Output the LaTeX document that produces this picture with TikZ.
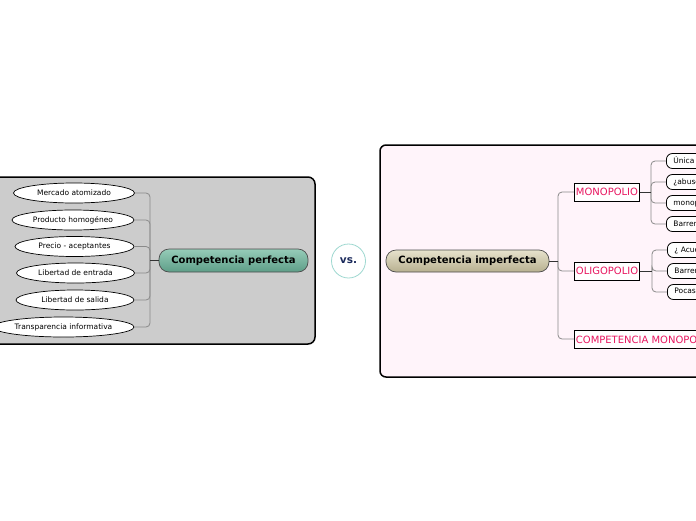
\documentclass[tikz,border=0pt]{standalone}
\usepackage{fontspec}
\setmainfont{DejaVu Sans}
\usetikzlibrary{shapes.geometric}
\definecolor{panelgray}{HTML}{CCCCCC}
\definecolor{panelpink}{HTML}{FFF4FA}
\definecolor{linegray}{HTML}{8A8A8A}
\definecolor{redtext}{HTML}{E8155F}
\definecolor{vsnavy}{HTML}{1B2A5C}
\definecolor{vsteal}{HTML}{9ED8D0}
\definecolor{greentop}{HTML}{96CCB8}
\definecolor{greenbot}{HTML}{5E9E88}
\definecolor{tantop}{HTML}{E6E2CC}
\definecolor{tanbot}{HTML}{B8B090}
\begin{document}
\begin{tikzpicture}[x=1pt,y=-1pt,
  leaf/.style={ellipse,draw=black,line width=0.7pt,fill=white,inner sep=0pt,minimum height=20pt,font=\fontsize{7.5}{8}\selectfont},
  rootA/.style={rounded corners=10pt,draw=black!70,line width=0.7pt,top color=greentop,bottom color=greenbot,minimum width=149pt,minimum height=23pt,inner sep=0pt,font=\bfseries\fontsize{10}{11}\selectfont},
  rootB/.style={rounded corners=10pt,draw=black!70,line width=0.7pt,top color=tantop,bottom color=tanbot,minimum width=163pt,minimum height=22pt,inner sep=0pt,font=\bfseries\fontsize{10}{11}\selectfont},
  cat/.style={draw=black,line width=0.8pt,fill=white,text=redtext,inner sep=1.5pt,minimum height=18pt,anchor=west,font=\fontsize{10}{11}\selectfont},
  pill/.style={draw=black,line width=0.8pt,fill=white,rounded corners=6pt,minimum height=15pt,inner xsep=7pt,inner ysep=0pt,anchor=west,font=\fontsize{7.5}{8}\selectfont},
  conn/.style={draw=linegray,line width=0.8pt,rounded corners=4pt},
  stem/.style={draw=black!80,line width=0.9pt}]
\useasboundingbox (0,0) rectangle (696,520);
\clip (0,0) rectangle (696,520);
\fill[white] (0,0) rectangle (696,520);
% panels
\draw[fill=panelgray,draw=black,line width=1.5pt,rounded corners=7pt] (-10,177) rectangle (315,344);
\draw[fill=panelpink,draw=black,line width=1.5pt,rounded corners=6pt] (380,145) rectangle (720,377);
% left tree
\node[rootA] (cp) at (233.5,260.5) {Competencia perfecta};
\coordinate (jl) at (150,260.5);
\node[leaf,minimum width=121pt] (l1) at (74,193) {Mercado atomizado};
\node[leaf,minimum width=122pt] (l2) at (73,220) {Producto homogéneo};
\node[leaf,minimum width=119pt] (l3) at (74.5,246.5) {Precio - aceptantes};
\node[leaf,minimum width=118pt] (l4) at (75.5,273) {Libertad de entrada};
\node[leaf,minimum width=118pt] (l5) at (75,300) {Libertad de salida};
\node[leaf,minimum width=141pt] (l6) at (63.5,327) {Transparencia informativa};
\foreach \n in {l1,l2,l3,l4,l5,l6}{\draw[conn] (jl) |- (\n.east);}
\draw[stem] (cp.west) -- (jl);
% vs
\node[circle,draw=vsteal,line width=0.8pt,fill=white,minimum size=34pt,inner sep=0pt,text=vsnavy,font=\bfseries\fontsize{10.5}{11}\selectfont] (vs) at (348.5,261) {vs.};
% right tree
\node[rootB] (ci) at (467.5,261) {Competencia imperfecta};
\coordinate (jr) at (558,261);
\node[cat] (mono) at (574,192) {MONOPOLIO};
\node[cat] (oli) at (574,271) {OLIGOPOLIO};
\node[cat] (cm) at (574,339) {COMPETENCIA MONOPOLÍSTICA};
\foreach \n in {mono,oli,cm}{\draw[conn] (jr) |- (\n.west);}
\draw[stem] (ci.east) -- (jr);
\coordinate (jm) at (651,192);
\coordinate (jo) at (652,271);
\node[pill] (m1) at (666,161) {Única empresa};
\node[pill] (m2) at (666,182) {¿abuso de poder?};
\node[pill] (m3) at (666,203) {monopolio natural};
\node[pill] (m4) at (666,224) {Barreras de entrada};
\node[pill] (o1) at (667,250) {¿ Acuerdos?};
\node[pill] (o2) at (667,271) {Barreras de entrada};
\node[pill] (o3) at (667,292) {Pocas empresas};
\foreach \n in {m1,m2,m3,m4}{\draw[conn] (jm) |- (\n.west);}
\foreach \n in {o1,o2,o3}{\draw[conn] (jo) |- (\n.west);}
\draw[stem] (mono.east) -- (jm);
\draw[stem] (oli.east) -- (jo);
\end{tikzpicture}
\end{document}
